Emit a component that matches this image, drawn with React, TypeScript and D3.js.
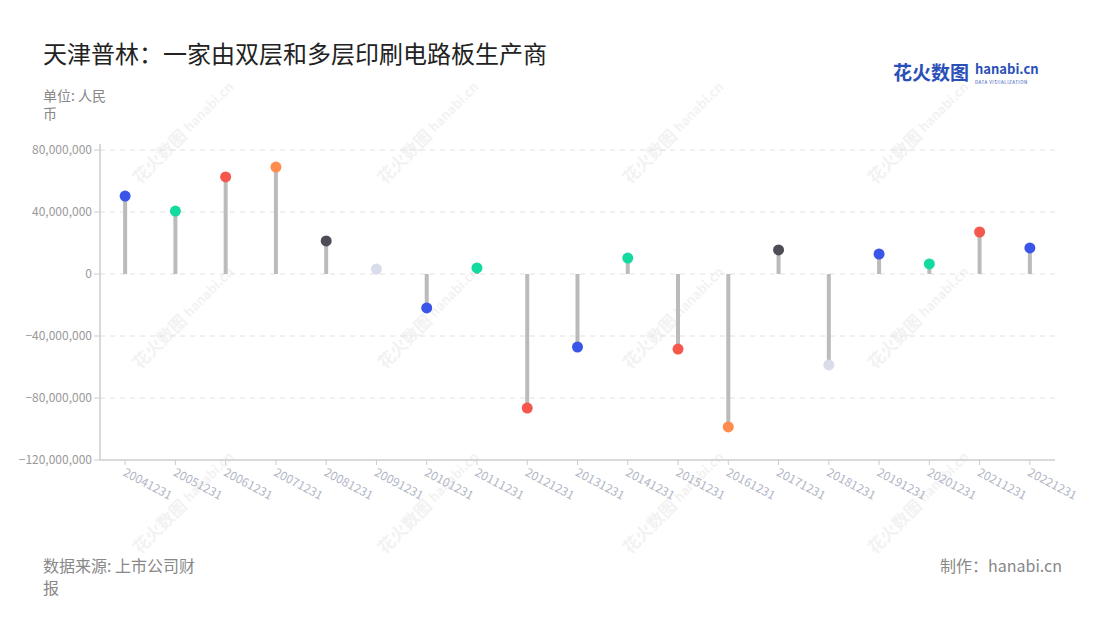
import React from "react";
import * as d3 from "d3";

const categories = ["20041231","20051231","20061231","20071231","20081231","20091231","20101231","20111231","20121231","20131231","20141231","20151231","20161231","20171231","20181231","20191231","20201231","20211231","20221231"];
const values = [50300000,40600000,62600000,69000000,21300000,3200000,-21900000,3900000,-86500000,-47100000,10300000,-48400000,-98700000,15500000,-58700000,12900000,6500000,27100000,16800000];
const palette = ["#3a56e8","#13dba0","#f5574c","#ff8b4d","#4e4d57","#d9dcea"];
const pointColorIndex = [0,1,2,3,4,5,0,1,2,0,1,2,3,4,5,0,1,2,0];
const yTicks = [80000000,40000000,0,-40000000,-80000000,-120000000];

const FONT = "'Noto Sans CJK SC', 'Noto Sans', sans-serif";

export default function App() {
  const W = 1100, H = 620;
  const left = 100, right = 1055, top = 150, bottom = 460;
  const x = d3.scaleBand<string>().domain(categories).range([left, right]);
  const y = d3.scaleLinear().domain([-120000000, 80000000]).range([bottom, top]);
  const fmt = d3.format(",");
  const wmPos: [number, number][] = [];
  for (const wx of [140, 385, 630, 875]) for (const wy of [185, 370, 555]) wmPos.push([wx, wy]);
  return (
    <svg width={W} height={H} style={{ position: "absolute", left: 0, top: 0, fontFamily: FONT }}>
      <rect width={W} height={H} fill="#fff" />
      {wmPos.map(([wx, wy], i) => (
        <g key={i} transform={`translate(${wx},${wy}) rotate(-45)`} opacity={0.07}>
          <text x={0} y={0} fontSize={17} fontWeight="bold" fill="#555">花火数图</text>
          <text x={72} y={-2} fontSize={13} fontWeight="bold" fill="#555">hanabi.cn</text>
        </g>
      ))}
      <text x={43} y={63} fontSize={24} fill="#222">天津普林：一家由双层和多层印刷电路板生产商</text>
      <text x={893} y={80} fontSize={19} fontWeight="bold" fill="#2a4fb8">花火数图</text>
      <text x={975} y={74} fontSize={13} fontWeight="bold" fill="#2a4fb8">hanabi.cn</text>
      <text x={975} y={84} fontSize={4.5} fill="#2a4fb8" letterSpacing={0.5}>DATA VISUALIZATION</text>
      <text x={43} y={101} fontSize={14} fill="#888">单位: 人民</text>
      <text x={43} y={119} fontSize={14} fill="#888">币</text>
      {yTicks.map((t) => (
        <g key={t}>
          {t !== -120000000 && (
            <line x1={left} x2={right} y1={y(t)} y2={y(t)} stroke="#e0e0e0" strokeDasharray="5,5" strokeWidth={1} />
          )}
          <line x1={left - 6} x2={left} y1={y(t)} y2={y(t)} stroke="#ccc" />
          <text x={left - 8} y={y(t)} dy="0.35em" textAnchor="end" fontSize={12} fill="#999">{fmt(t)}</text>
        </g>
      ))}
      <line x1={left} x2={left} y1={top - 6} y2={bottom} stroke="#ccc" strokeWidth={1.5} />
      <line x1={left} x2={right} y1={bottom} y2={bottom} stroke="#ccc" strokeWidth={1.5} />
      {categories.map((c) => {
        const cx = (x(c) as number) + x.bandwidth() / 2;
        return (
          <g key={c}>
            <line x1={cx} x2={cx} y1={bottom} y2={bottom + 5} stroke="#ccc" />
            <text transform={`translate(${cx - 3},${bottom + 15}) rotate(28)`} fontSize={12} fill="#b2b6c6">{c}</text>
          </g>
        );
      })}
      {categories.map((c, i) => {
        const cx = (x(c) as number) + x.bandwidth() / 2;
        return (
          <g key={c}>
            <line x1={cx} x2={cx} y1={y(0)} y2={y(values[i])} stroke="#bbbbbb" strokeWidth={4} />
            <circle cx={cx} cy={y(values[i])} r={5.5} fill={palette[pointColorIndex[i]]} />
          </g>
        );
      })}
      <text x={43} y={572} fontSize={16} fill="#888">数据来源: 上市公司财</text>
      <text x={43} y={594} fontSize={16} fill="#888">报</text>
      <text x={1062} y={572} textAnchor="end" fontSize={16} fill="#888">制作：hanabi.cn</text>
    </svg>
  );
}
